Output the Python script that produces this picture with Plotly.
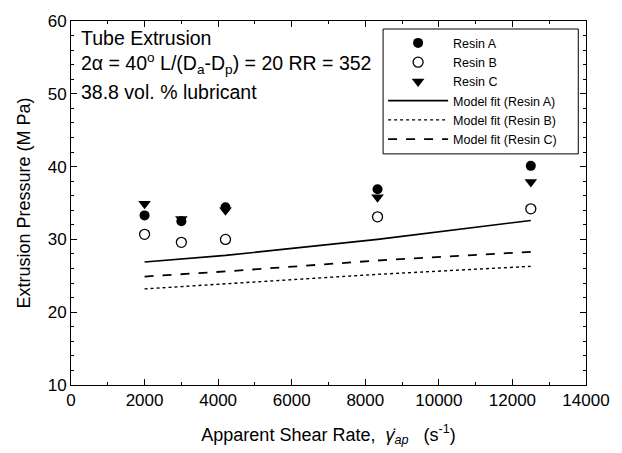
import plotly.graph_objects as go

shear = [2000, 3000, 4200, 8333, 12500]
resin_a = [33.3, 32.5, 34.4, 36.9, 40.1]
resin_b = [30.7, 29.6, 30.0, 33.1, 34.2]
resin_c = [34.9, 32.8, 34.0, 35.8, 37.9]

fit_a = [26.9, 27.3, 27.8, 30.0, 32.6]
fit_b = [23.2, 23.5, 23.9, 25.2, 26.3]
fit_c = [24.9, 25.2, 25.6, 27.1, 28.3]

FONT = "Liberation Sans, Arial, sans-serif"

fig = go.Figure()
fig.add_trace(go.Scatter(x=shear, y=resin_a, mode="markers", name="Resin A",
                         marker=dict(symbol="circle", size=10, color="black")))
fig.add_trace(go.Scatter(x=shear, y=resin_b, mode="markers", name="Resin B",
                         marker=dict(symbol="circle-open", size=10, color="black",
                                     line=dict(width=1.3, color="black"))))
fig.add_trace(go.Scatter(x=shear, y=resin_c, mode="markers", name="Resin C",
                         marker=dict(symbol="triangle-down", size=11, color="black")))
fig.add_trace(go.Scatter(x=shear, y=fit_a, mode="lines", name="Model fit (Resin A)",
                         line=dict(color="black", width=1.6, dash="solid")))
fig.add_trace(go.Scatter(x=shear, y=fit_b, mode="lines", name="Model fit (Resin B)",
                         line=dict(color="black", width=1.4, dash="dot")))
fig.add_trace(go.Scatter(x=shear, y=fit_c, mode="lines", name="Model fit (Resin C)",
                         line=dict(color="black", width=1.8, dash="dash")))

texts = ["Tube Extrusion",
         "2\u03b1 = 40<sup>o</sup> L/(D<sub>a</sub>-D<sub>p</sub>) = 20 RR = 352",
         "38.8 vol. % lubricant"]
ys = [0.953, 0.884, 0.806]
for t, yy in zip(texts, ys):
    fig.add_annotation(text=t, xref="paper", yref="paper", x=0.015, y=yy,
                       xanchor="left", yanchor="middle", showarrow=False,
                       font=dict(family=FONT, size=19.5, color="black"))

# legend frame (wider than plotly's auto-sized box, as in the reference)
fig.add_shape(type="rect", xref="paper", yref="paper",
              x0=0.606, x1=0.985, y0=0.635, y1=0.978,
              line=dict(color="black", width=1), fillcolor="white", layer="above")

axis_common = dict(showline=True, linecolor="black", linewidth=1, mirror="ticks",
                   ticks="inside", ticklen=6, tickwidth=1, tickcolor="black",
                   showgrid=False, zeroline=False,
                   tickfont=dict(family=FONT, size=17, color="black"))

fig.update_xaxes(range=[0, 14000], dtick=2000, tick0=0, tickformat="d",
                 minor=dict(dtick=1000, ticks="inside", ticklen=3, tickcolor="black"),
                 title=dict(text="Apparent Shear Rate,  <i>\u03b3\u0307</i><sub><i>ap</i></sub>   (s<sup>-1</sup>)",
                            font=dict(family=FONT, size=18, color="black"), standoff=18),
                 **axis_common)
fig.update_yaxes(range=[10, 60], dtick=10, tick0=0,
                 minor=dict(dtick=2, ticks="inside", ticklen=3, tickcolor="black"),
                 title=dict(text="Extrusion Pressure (M Pa)",
                            font=dict(family=FONT, size=18, color="black"), standoff=12),
                 **axis_common)

fig.update_layout(
    width=622, height=453,
    margin=dict(l=71, r=28, t=19, b=67),
    paper_bgcolor="white", plot_bgcolor="white",
    showlegend=True,
    legend=dict(x=0.606, y=0.98, xanchor="left", yanchor="top",
                bgcolor="rgba(0,0,0,0)", borderwidth=0,
                font=dict(family=FONT, size=12.5, color="black"),
                itemwidth=60, tracegroupgap=0),
)

fig.write_html("out.html")
